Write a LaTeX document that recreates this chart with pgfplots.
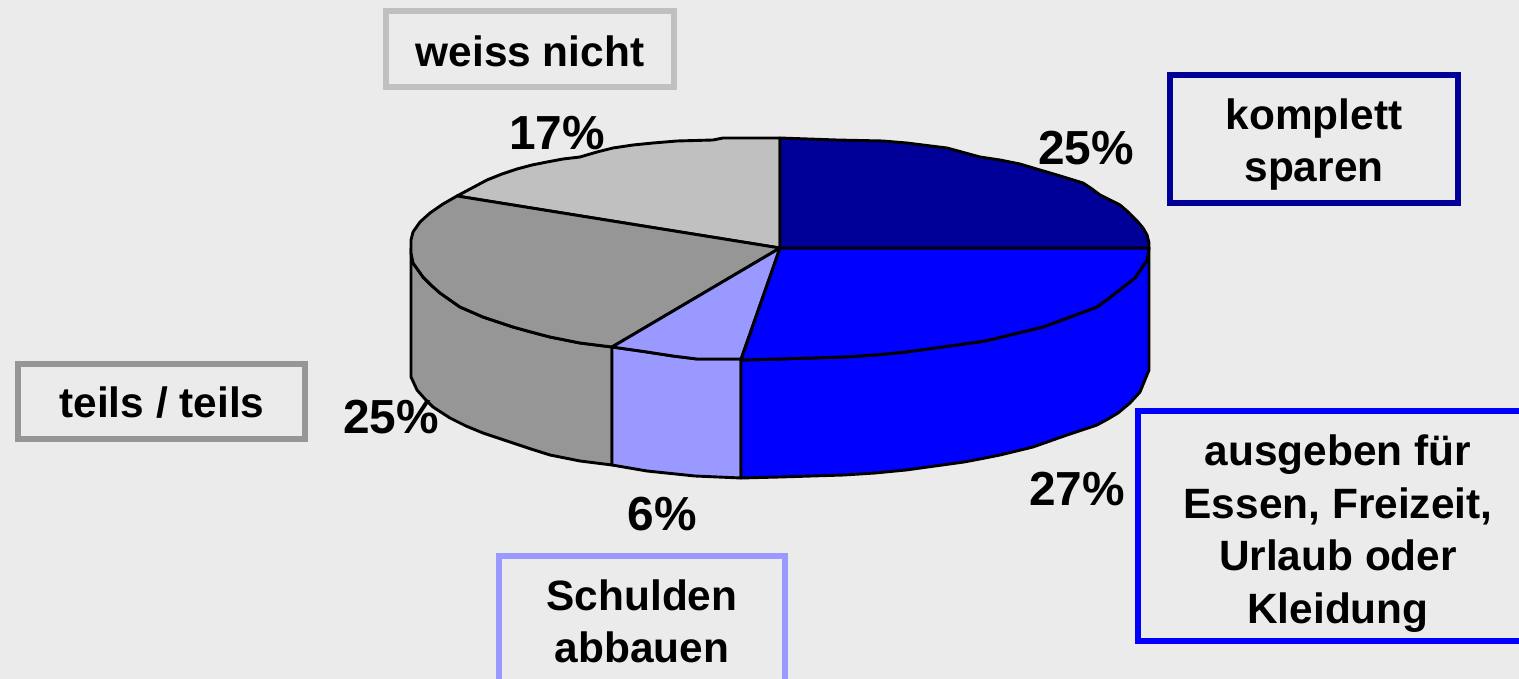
\documentclass[border=0pt]{standalone}
\usepackage{pgfplots}
\pgfplotsset{compat=1.18}
\usepackage{fontspec}
\setmainfont{Liberation Sans}
\definecolor{bg}{HTML}{EBEBEB}
\definecolor{cA}{HTML}{000099}
\definecolor{cB}{HTML}{0000FF}
\definecolor{cC}{HTML}{9999FF}
\definecolor{cD}{HTML}{969696}
\definecolor{cE}{HTML}{C0C0C0}
\newcommand{\lab}[3]{\node[anchor=base,inner sep=0pt,text=black] at (axis cs:#1,#2) {\fontsize{42.4}{52}\selectfont\bfseries #3};}
\newcommand{\pct}[3]{\node[anchor=base,inner sep=0pt,text=black] at (axis cs:#1,#2) {\fontsize{47.8}{52}\selectfont\bfseries #3};}
\begin{document}
\begin{tikzpicture}
\begin{axis}[
  scale only axis, width=1519pt, height=679pt,
  xmin=0, xmax=1519, ymin=0, ymax=679, y dir=reverse,
  axis lines=none, clip=true, no markers,
  every axis plot/.append style={line join=round, line width=2.9pt, draw=black}
]
% background
\addplot[fill=bg, draw=none] coordinates {(0,0) (1519,0) (1519,679) (0,679)} --cycle;
% sides
\addplot[fill=cD] coordinates {(411,248) (411,377) (417,390) (425,399) (433,407) (450,418) (466,426) (483,433) (498,438) (513,443) (531,449) (550,455) (580,461) (596,463) (612,465) (612,347) (596,345) (580,343) (550,337) (531,332) (513,327) (498,322) (483,317) (460,307) (450,300) (440,293) (431,285) (423,277) (413,263)} --cycle;
\addplot[fill=cC] coordinates {(612,347) (612,465) (647,471) (695,476) (741,478) (741,359) (697,359) (673,356) (647,352)} --cycle;
\addplot[fill=cB] coordinates {(741,360) (741,478) (780,477) (812,476) (844,475) (875,473) (906,470) (935,466) (964,462) (985,458) (1000,455) (1033,447) (1050,441) (1067,435) (1097,425) (1108,419) (1118,413) (1130,403) (1140,392) (1149,370) (1149,248) (1147,260) (1135,278) (1113,295) (1097,307) (1070,317) (1043,327) (1010,335) (985,341) (964,344) (935,348) (906,352) (875,355) (844,357) (812,358) (780,359)} --cycle;
% top
\addplot[fill=cE] coordinates {(780,248) (457,196) (472,188) (487,180) (502,174) (517,169) (532,165) (547,162) (563,159) (580,157) (597,152) (613,148) (633,145) (653,143) (677,141) (713,140) (723,138) (780,138)} --cycle;
\addplot[fill=cD] coordinates {(780,248) (612,347) (596,345) (580,343) (550,337) (531,332) (513,327) (498,322) (483,317) (460,307) (450,300) (440,293) (431,285) (423,277) (413,263) (411,253) (411,240) (413,232) (420,222) (430,213) (443,204) (457,196)} --cycle;
\addplot[fill=cC] coordinates {(780,248) (741,359) (697,359) (673,356) (647,352) (612,347)} --cycle;
\addplot[fill=cB] coordinates {(780,248) (1149,248) (1147,260) (1135,278) (1113,295) (1097,307) (1070,317) (1043,327) (1010,335) (985,341) (964,344) (935,348) (906,352) (875,355) (844,357) (812,358) (780,359) (741,360)} --cycle;
\addplot[fill=cA] coordinates {(780,248) (780,138) (837,140) (883,141) (907,143) (947,148) (980,157) (1000,160) (1020,164) (1040,170) (1057,175) (1070,179) (1083,183) (1092,189) (1100,195) (1110,200) (1120,205) (1127,211) (1133,217) (1138,222) (1143,228) (1147,235) (1149,243) (1149,248)} --cycle;
% label boxes
\addplot[draw=cE, line width=6pt, line join=miter] coordinates {(386,11) (674,11) (674,87) (386,87)} --cycle;
\addplot[draw=cA, line width=6pt, line join=miter] coordinates {(1170,75) (1458,75) (1458,203) (1170,203)} --cycle;
\addplot[draw=cB, line width=6pt, line join=miter] coordinates {(1138,411) (1540,411) (1540,641) (1138,641)} --cycle;
\addplot[draw=cD, line width=6pt, line join=miter] coordinates {(18,364) (305,364) (305,439) (18,439)} --cycle;
\addplot[draw=cC, line width=6pt, line join=miter] coordinates {(499,556) (785,556) (785,700) (499,700)} --cycle;
% texts
\lab{530}{67}{weiss nicht}
\lab{1314}{130}{komplett}
\lab{1314}{182}{sparen}
\lab{1338}{465}{ausgeben für}
\lab{1338}{518}{Essen, Freizeit,}
\lab{1338}{570}{Urlaub oder}
\lab{1338}{623}{Kleidung}
\lab{162}{417}{teils / teils}
\lab{642}{610}{Schulden}
\lab{642}{662}{abbauen}
\pct{557}{150}{17\%}
\pct{1086}{165}{25\%}
\pct{1077}{505}{27\%}
\pct{662}{530}{6\%}
\pct{391}{433}{25\%}
\end{axis}
\end{tikzpicture}
\end{document}
